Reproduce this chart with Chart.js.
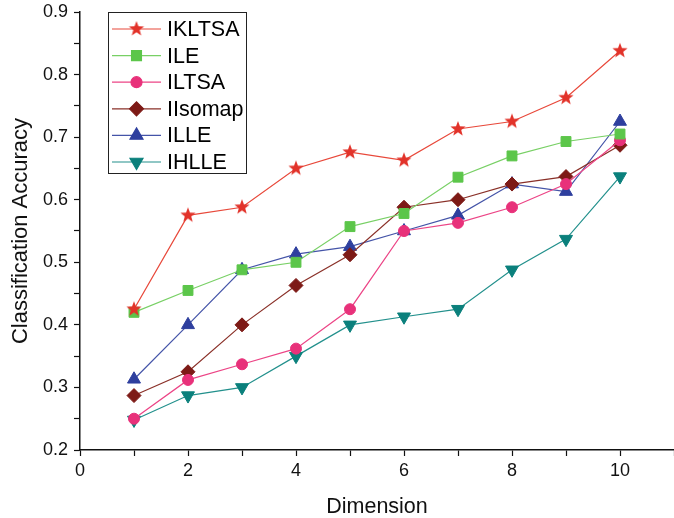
<!DOCTYPE html>
<html>
<head>
<meta charset="utf-8">
<script src="https://cdn.jsdelivr.net/npm/chart.js@4"></script>
<style>
  html, body { margin: 0; padding: 0; background: #fff; }
  #wrap { width: 674px; height: 518px; }
</style>
</head>
<body>
<div id="wrap"><canvas id="grafico" width="674" height="518"></canvas></div>
<script>
// Datos
const dimensiones = [1, 2, 3, 4, 5, 6, 7, 8, 9, 10];
const ikltsa = [0.425, 0.575, 0.588, 0.650, 0.676, 0.663, 0.713, 0.725, 0.763, 0.838];
const ile    = [0.420, 0.455, 0.488, 0.500, 0.557, 0.578, 0.636, 0.670, 0.693, 0.705];
const iltsa  = [0.250, 0.312, 0.337, 0.362, 0.425, 0.550, 0.563, 0.588, 0.625, 0.695];
const iisomap = [0.287, 0.325, 0.400, 0.463, 0.512, 0.588, 0.600, 0.625, 0.637, 0.687];
const ille   = [0.313, 0.400, 0.488, 0.513, 0.525, 0.550, 0.575, 0.625, 0.613, 0.725];
const ihlle  = [0.248, 0.287, 0.300, 0.350, 0.400, 0.413, 0.425, 0.488, 0.537, 0.637];
const nombres = ['IKLTSA', 'ILE', 'ILTSA', 'IIsomap', 'ILLE', 'IHLLE'];

const FUENTE = '"Liberation Sans", Arial, sans-serif';

// Estrella rellena (Chart.js solo trae la estrella de trazos)
function crearEstrella(color, r) {
  const c = document.createElement('canvas');
  const s = Math.ceil(r * 2 + 2);
  c.width = s; c.height = s;
  const ctx = c.getContext('2d');
  ctx.fillStyle = color;
  ctx.beginPath();
  for (let i = 0; i < 10; i++) {
    const rad = i % 2 === 0 ? r : r * 0.42;
    const a = -Math.PI / 2 + i * Math.PI / 5;
    const px = s / 2 + rad * Math.cos(a);
    const py = s / 2 + rad * Math.sin(a);
    if (i === 0) ctx.moveTo(px, py); else ctx.lineTo(px, py);
  }
  ctx.closePath();
  ctx.fill();
  return c;
}

function serie(label, valores, linea, relleno, estilo, radio, rotacion) {
  return {
    label: label,
    data: dimensiones.map((d, i) => ({ x: d, y: valores[i] })),
    borderColor: linea,
    borderWidth: 1.2,
    backgroundColor: relleno,
    pointBackgroundColor: relleno,
    pointBorderColor: relleno,
    pointBorderWidth: 1,
    pointStyle: estilo,
    pointRadius: radio,
    pointRotation: rotacion || 0,
    tension: 0
  };
}

const datasets = [
  serie(nombres[0], ikltsa, '#e8483a', '#e2332a', crearEstrella('#e2332a', 8), 8),
  serie(nombres[1], ile, '#78d065', '#5cc64a', 'rect', 7),
  serie(nombres[2], iltsa, '#ec4486', '#e8317a', 'circle', 5.5),
  serie(nombres[3], iisomap, '#8a3028', '#7d1a16', 'rectRot', 7),
  serie(nombres[4], ille, '#4454a8', '#2e3f9e', 'triangle', 7.5),
  serie(nombres[5], ihlle, '#22908c', '#0b807c', 'triangle', 7.5, 180)
];

// Leyenda con recuadro dentro del area del grafico
const leyendaInterna = {
  id: 'leyendaInterna',
  afterDraw(chart) {
    const ctx = chart.ctx;
    const x0 = 108, y0 = 12, w = 138, h = 161;
    ctx.save();
    ctx.fillStyle = '#fff';
    ctx.fillRect(x0, y0, w, h);
    ctx.strokeStyle = '#222';
    ctx.lineWidth = 1;
    ctx.strokeRect(x0 + 0.5, y0 + 0.5, w, h);
    chart.data.datasets.forEach((ds, i) => {
      const y = 29 + i * 26.6;
      ctx.strokeStyle = ds.borderColor;
      ctx.lineWidth = 1.2;
      ctx.beginPath();
      ctx.moveTo(112, y);
      ctx.lineTo(161, y);
      ctx.stroke();
      ctx.fillStyle = ds.pointBackgroundColor;
      ctx.strokeStyle = ds.pointBorderColor;
      Chart.helpers.drawPoint(ctx, {
        pointStyle: ds.pointStyle,
        rotation: ds.pointRotation,
        radius: ds.pointRadius,
        borderWidth: 1
      }, 136.5, y);
      ctx.fillStyle = '#000';
      ctx.font = '21.5px ' + FUENTE;
      ctx.textBaseline = 'middle';
      ctx.fillText(ds.label, 167, y + 1);
    });
    ctx.restore();
  }
};

new Chart(document.getElementById('grafico'), {
  type: 'line',
  data: { datasets: datasets },
  plugins: [leyendaInterna],
  options: {
    responsive: false,
    animation: false,
    layout: { autoPadding: false, padding: { top: 12, right: 0, left: 0, bottom: 0 } },
    plugins: { legend: { display: false }, tooltip: { enabled: false } },
    scales: {
      x: {
        type: 'linear',
        min: 0, max: 11,
        afterFit(scale) {
          scale.height = 68;
          scale.paddingLeft = 0;
          scale.paddingRight = 0;
        },
        border: { display: true, color: '#111', width: 1.5 },
        grid: { drawOnChartArea: false, tickLength: 6, color: '#111', tickWidth: 1.2 },
        ticks: {
          stepSize: 1,
          autoSkip: false,
          maxRotation: 0,
          padding: 4,
          color: '#111',
          font: { size: 18, family: FUENTE },
          callback: v => (v % 2 === 0 && v <= 10) ? String(v) : ''
        },
        title: {
          display: true,
          text: 'Dimension',
          color: '#111',
          font: { size: 21.5, family: FUENTE },
          padding: { top: 4, bottom: -2 }
        }
      },
      y: {
        min: 0.2, max: 0.9,
        afterFit(scale) {
          scale.width = 80;
          scale.paddingTop = 0;
          scale.paddingBottom = 0;
        },
        border: { display: true, color: '#111', width: 1.5 },
        grid: { drawOnChartArea: false, tickLength: 6, color: '#111', tickWidth: 1.2 },
        ticks: {
          stepSize: 0.05,
          autoSkip: false,
          padding: 6,
          color: '#111',
          font: { size: 18, family: FUENTE },
          callback: v => Math.round(v * 100) % 10 === 0 ? v.toFixed(1) : ''
        },
        title: {
          display: true,
          text: 'Classification Accuracy',
          color: '#111',
          font: { size: 22, family: FUENTE },
          padding: { top: 8, bottom: 4 }
        }
      }
    }
  }
});
</script>
</body>
</html>
